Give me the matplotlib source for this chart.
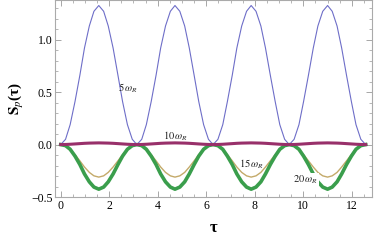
import matplotlib
matplotlib.use("Agg")
import matplotlib.pyplot as plt
from matplotlib.ticker import MultipleLocator

plt.rcParams['font.family'] = ['Liberation Serif', 'DejaVu Serif']
plt.rcParams['mathtext.fontset'] = 'stix'

# tau grid (pi/16 steps)
tau = [0.00, 0.20, 0.39, 0.59, 0.79, 0.98, 1.18, 1.37, 1.57, 1.77, 1.96, 2.16, 2.36, 2.55, 2.75, 2.95,
       3.14, 3.34, 3.53, 3.73, 3.93, 4.12, 4.32, 4.52, 4.71, 4.91, 5.11, 5.30, 5.50, 5.69, 5.89, 6.09,
       6.28, 6.48, 6.68, 6.87, 7.07, 7.26, 7.46, 7.66, 7.85, 8.05, 8.25, 8.44, 8.64, 8.84, 9.03, 9.23,
       9.42, 9.62, 9.82, 10.01, 10.21, 10.41, 10.60, 10.80, 11.00, 11.19, 11.39, 11.58, 11.78, 11.98,
       12.17, 12.37, 12.57]

s_5 = [0, 0.05, 0.19, 0.41, 0.66, 0.92, 1.13, 1.27, 1.325, 1.27, 1.13, 0.92, 0.66, 0.41, 0.19, 0.05,
       0, 0.05, 0.19, 0.41, 0.66, 0.92, 1.13, 1.27, 1.325, 1.27, 1.13, 0.92, 0.66, 0.41, 0.19, 0.05,
       0, 0.05, 0.19, 0.41, 0.66, 0.92, 1.13, 1.27, 1.325, 1.27, 1.13, 0.92, 0.66, 0.41, 0.19, 0.05,
       0, 0.05, 0.19, 0.41, 0.66, 0.92, 1.13, 1.27, 1.325, 1.27, 1.13, 0.92, 0.66, 0.41, 0.19, 0.05,
       0]

s_10 = [0, 0.001, 0.003, 0.006, 0.009, 0.012, 0.014, 0.015, 0.016, 0.015, 0.014, 0.012, 0.009, 0.006, 0.003, 0.001,
        0, 0.001, 0.003, 0.006, 0.009, 0.012, 0.014, 0.015, 0.016, 0.015, 0.014, 0.012, 0.009, 0.006, 0.003, 0.001,
        0, 0.001, 0.003, 0.006, 0.009, 0.012, 0.014, 0.015, 0.016, 0.015, 0.014, 0.012, 0.009, 0.006, 0.003, 0.001,
        0, 0.001, 0.003, 0.006, 0.009, 0.012, 0.014, 0.015, 0.016, 0.015, 0.014, 0.012, 0.009, 0.006, 0.003, 0.001,
        0]

s_15 = [0, -0.012, -0.045, -0.096, -0.155, -0.214, -0.265, -0.298, -0.31, -0.298, -0.265, -0.214, -0.155, -0.096, -0.045, -0.012,
        0, -0.012, -0.045, -0.096, -0.155, -0.214, -0.265, -0.298, -0.31, -0.298, -0.265, -0.214, -0.155, -0.096, -0.045, -0.012,
        0, -0.012, -0.045, -0.096, -0.155, -0.214, -0.265, -0.298, -0.31, -0.298, -0.265, -0.214, -0.155, -0.096, -0.045, -0.012,
        0, -0.012, -0.045, -0.096, -0.155, -0.214, -0.265, -0.298, -0.31, -0.298, -0.265, -0.214, -0.155, -0.096, -0.045, -0.012,
        0]

s_20 = [0, -0.01, -0.045, -0.11, -0.19, -0.28, -0.355, -0.405, -0.425, -0.405, -0.355, -0.28, -0.19, -0.11, -0.045, -0.01,
        0, -0.01, -0.045, -0.11, -0.19, -0.28, -0.355, -0.405, -0.425, -0.405, -0.355, -0.28, -0.19, -0.11, -0.045, -0.01,
        0, -0.01, -0.045, -0.11, -0.19, -0.28, -0.355, -0.405, -0.425, -0.405, -0.355, -0.28, -0.19, -0.11, -0.045, -0.01,
        0, -0.01, -0.045, -0.11, -0.19, -0.28, -0.355, -0.405, -0.425, -0.405, -0.355, -0.28, -0.19, -0.11, -0.045, -0.01,
        0]

labels = [r"$5\,\omega_R$", r"$10\,\omega_R$", r"$15\,\omega_R$", r"$20\,\omega_R$"]
label_pos = [(2.78, 0.54), (4.72, 0.08), (7.87, -0.19), (10.08, -0.34)]

fig = plt.figure(figsize=(3.74, 2.40), dpi=100)
ax = fig.add_axes([0.148, 0.179, 0.846, 0.819])

ax.plot(tau, s_5, color='#6e6ec8', lw=0.8, zorder=3)
ax.plot(tau, s_15, color='#c4aa6a', lw=1.0, zorder=2)
ax.plot(tau, s_20, color='#3a9e4c', lw=2.6, zorder=4)
ax.plot(tau, s_10, color='#98306a', lw=2.2, zorder=5)

for lab, (x, y) in zip(labels, label_pos):
    bg = dict(facecolor='white', edgecolor='none', pad=0.5) if lab.startswith(r"$20") else None
    ax.text(x, y, lab, fontsize=7.5, ha='center', va='center', color='#222222', bbox=bg, zorder=6)

ax.set_xlim(-0.22, 12.82)
ax.set_ylim(-0.5, 1.373)
ax.xaxis.set_major_locator(MultipleLocator(2))
ax.xaxis.set_minor_locator(MultipleLocator(0.5))
ax.yaxis.set_major_locator(MultipleLocator(0.5))
ax.yaxis.set_minor_locator(MultipleLocator(0.1))
ax.set_yticks([-0.5, 0.0, 0.5, 1.0])
ax.set_yticklabels(["\u22120.5", "0.0", "0.5", "1.0"])

ax.tick_params(which='both', direction='in', top=True, right=True, color='#999999', labelsize=8.5, pad=2)
ax.tick_params(which='major', length=4, width=0.6)
ax.tick_params(which='minor', length=2, width=0.5)
for sp in ax.spines.values():
    sp.set_color('#aaaaaa')
    sp.set_linewidth(0.8)

ax.set_xlabel("τ", fontsize=12, fontweight='bold', labelpad=6)
ax.set_ylabel(r"$\mathbf{S}_{p}$(τ)", fontsize=11, fontweight='bold', labelpad=4)

fig.savefig("out.png", dpi=100)
